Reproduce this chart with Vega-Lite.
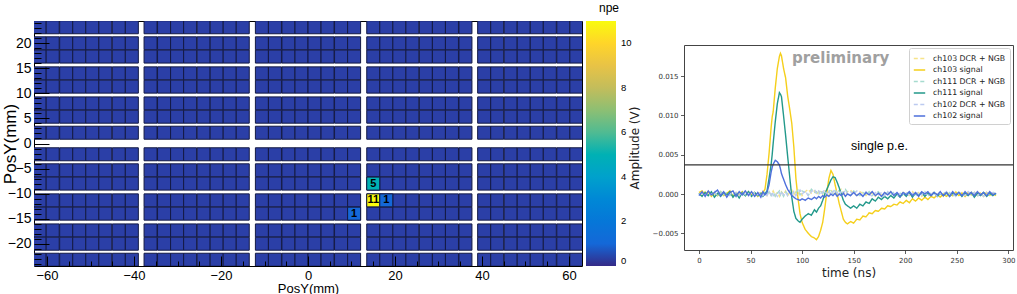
{
"$schema": "https://vega.github.io/schema/vega-lite/v6.json",
"background": "white",
"padding": {"left": 0, "top": 2, "right": 0, "bottom": 0},
"spacing": -6,
"resolve": {"scale": {"color": "independent", "strokeDash": "independent", "fill": "independent"}, "legend": {"color": "independent", "strokeDash": "independent", "fill": "independent"}},
"datasets": {
"cells": [
{"x":-61.7,"y":23.2},{"x":-58.7,"y":23.2},{"x":-55.6,"y":23.2},{"x":-52.6,"y":23.2},{"x":-49.6,"y":23.2},{"x":-46.6,"y":23.2},{"x":-43.5,"y":23.2},{"x":-40.5,"y":23.2},{"x":-36.2,"y":23.2},{"x":-33.1,"y":23.2},{"x":-30.1,"y":23.2},{"x":-27.1,"y":23.2},{"x":-24,"y":23.2},{"x":-21,"y":23.2},{"x":-18,"y":23.2},{"x":-15,"y":23.2},{"x":-10.6,"y":23.2},{"x":-7.6,"y":23.2},{"x":-4.5,"y":23.2},{"x":-1.5,"y":23.2},{"x":1.5,"y":23.2},{"x":4.5,"y":23.2},{"x":7.6,"y":23.2},{"x":10.6,"y":23.2},{"x":15,"y":23.2},{"x":18,"y":23.2},{"x":21,"y":23.2},{"x":24,"y":23.2},{"x":27.1,"y":23.2},{"x":30.1,"y":23.2},{"x":33.1,"y":23.2},{"x":36.2,"y":23.2},{"x":40.5,"y":23.2},{"x":43.5,"y":23.2},{"x":46.6,"y":23.2},{"x":49.6,"y":23.2},{"x":52.6,"y":23.2},{"x":55.6,"y":23.2},{"x":58.7,"y":23.2},{"x":61.7,"y":23.2},
{"x":-61.7,"y":20},{"x":-58.7,"y":20},{"x":-55.6,"y":20},{"x":-52.6,"y":20},{"x":-49.6,"y":20},{"x":-46.6,"y":20},{"x":-43.5,"y":20},{"x":-40.5,"y":20},{"x":-36.2,"y":20},{"x":-33.1,"y":20},{"x":-30.1,"y":20},{"x":-27.1,"y":20},{"x":-24,"y":20},{"x":-21,"y":20},{"x":-18,"y":20},{"x":-15,"y":20},{"x":-10.6,"y":20},{"x":-7.6,"y":20},{"x":-4.5,"y":20},{"x":-1.5,"y":20},{"x":1.5,"y":20},{"x":4.5,"y":20},{"x":7.6,"y":20},{"x":10.6,"y":20},{"x":15,"y":20},{"x":18,"y":20},{"x":21,"y":20},{"x":24,"y":20},{"x":27.1,"y":20},{"x":30.1,"y":20},{"x":33.1,"y":20},{"x":36.2,"y":20},{"x":40.5,"y":20},{"x":43.5,"y":20},{"x":46.6,"y":20},{"x":49.6,"y":20},{"x":52.6,"y":20},{"x":55.6,"y":20},{"x":58.7,"y":20},{"x":61.7,"y":20},
{"x":-61.7,"y":17.35},{"x":-58.7,"y":17.35},{"x":-55.6,"y":17.35},{"x":-52.6,"y":17.35},{"x":-49.6,"y":17.35},{"x":-46.6,"y":17.35},{"x":-43.5,"y":17.35},{"x":-40.5,"y":17.35},{"x":-36.2,"y":17.35},{"x":-33.1,"y":17.35},{"x":-30.1,"y":17.35},{"x":-27.1,"y":17.35},{"x":-24,"y":17.35},{"x":-21,"y":17.35},{"x":-18,"y":17.35},{"x":-15,"y":17.35},{"x":-10.6,"y":17.35},{"x":-7.6,"y":17.35},{"x":-4.5,"y":17.35},{"x":-1.5,"y":17.35},{"x":1.5,"y":17.35},{"x":4.5,"y":17.35},{"x":7.6,"y":17.35},{"x":10.6,"y":17.35},{"x":15,"y":17.35},{"x":18,"y":17.35},{"x":21,"y":17.35},{"x":24,"y":17.35},{"x":27.1,"y":17.35},{"x":30.1,"y":17.35},{"x":33.1,"y":17.35},{"x":36.2,"y":17.35},{"x":40.5,"y":17.35},{"x":43.5,"y":17.35},{"x":46.6,"y":17.35},{"x":49.6,"y":17.35},{"x":52.6,"y":17.35},{"x":55.6,"y":17.35},{"x":58.7,"y":17.35},{"x":61.7,"y":17.35},
{"x":-61.7,"y":14},{"x":-58.7,"y":14},{"x":-55.6,"y":14},{"x":-52.6,"y":14},{"x":-49.6,"y":14},{"x":-46.6,"y":14},{"x":-43.5,"y":14},{"x":-40.5,"y":14},{"x":-36.2,"y":14},{"x":-33.1,"y":14},{"x":-30.1,"y":14},{"x":-27.1,"y":14},{"x":-24,"y":14},{"x":-21,"y":14},{"x":-18,"y":14},{"x":-15,"y":14},{"x":-10.6,"y":14},{"x":-7.6,"y":14},{"x":-4.5,"y":14},{"x":-1.5,"y":14},{"x":1.5,"y":14},{"x":4.5,"y":14},{"x":7.6,"y":14},{"x":10.6,"y":14},{"x":15,"y":14},{"x":18,"y":14},{"x":21,"y":14},{"x":24,"y":14},{"x":27.1,"y":14},{"x":30.1,"y":14},{"x":33.1,"y":14},{"x":36.2,"y":14},{"x":40.5,"y":14},{"x":43.5,"y":14},{"x":46.6,"y":14},{"x":49.6,"y":14},{"x":52.6,"y":14},{"x":55.6,"y":14},{"x":58.7,"y":14},{"x":61.7,"y":14},
{"x":-61.7,"y":11.35},{"x":-58.7,"y":11.35},{"x":-55.6,"y":11.35},{"x":-52.6,"y":11.35},{"x":-49.6,"y":11.35},{"x":-46.6,"y":11.35},{"x":-43.5,"y":11.35},{"x":-40.5,"y":11.35},{"x":-36.2,"y":11.35},{"x":-33.1,"y":11.35},{"x":-30.1,"y":11.35},{"x":-27.1,"y":11.35},{"x":-24,"y":11.35},{"x":-21,"y":11.35},{"x":-18,"y":11.35},{"x":-15,"y":11.35},{"x":-10.6,"y":11.35},{"x":-7.6,"y":11.35},{"x":-4.5,"y":11.35},{"x":-1.5,"y":11.35},{"x":1.5,"y":11.35},{"x":4.5,"y":11.35},{"x":7.6,"y":11.35},{"x":10.6,"y":11.35},{"x":15,"y":11.35},{"x":18,"y":11.35},{"x":21,"y":11.35},{"x":24,"y":11.35},{"x":27.1,"y":11.35},{"x":30.1,"y":11.35},{"x":33.1,"y":11.35},{"x":36.2,"y":11.35},{"x":40.5,"y":11.35},{"x":43.5,"y":11.35},{"x":46.6,"y":11.35},{"x":49.6,"y":11.35},{"x":52.6,"y":11.35},{"x":55.6,"y":11.35},{"x":58.7,"y":11.35},{"x":61.7,"y":11.35},
{"x":-61.7,"y":8},{"x":-58.7,"y":8},{"x":-55.6,"y":8},{"x":-52.6,"y":8},{"x":-49.6,"y":8},{"x":-46.6,"y":8},{"x":-43.5,"y":8},{"x":-40.5,"y":8},{"x":-36.2,"y":8},{"x":-33.1,"y":8},{"x":-30.1,"y":8},{"x":-27.1,"y":8},{"x":-24,"y":8},{"x":-21,"y":8},{"x":-18,"y":8},{"x":-15,"y":8},{"x":-10.6,"y":8},{"x":-7.6,"y":8},{"x":-4.5,"y":8},{"x":-1.5,"y":8},{"x":1.5,"y":8},{"x":4.5,"y":8},{"x":7.6,"y":8},{"x":10.6,"y":8},{"x":15,"y":8},{"x":18,"y":8},{"x":21,"y":8},{"x":24,"y":8},{"x":27.1,"y":8},{"x":30.1,"y":8},{"x":33.1,"y":8},{"x":36.2,"y":8},{"x":40.5,"y":8},{"x":43.5,"y":8},{"x":46.6,"y":8},{"x":49.6,"y":8},{"x":52.6,"y":8},{"x":55.6,"y":8},{"x":58.7,"y":8},{"x":61.7,"y":8},
{"x":-61.7,"y":5.35},{"x":-58.7,"y":5.35},{"x":-55.6,"y":5.35},{"x":-52.6,"y":5.35},{"x":-49.6,"y":5.35},{"x":-46.6,"y":5.35},{"x":-43.5,"y":5.35},{"x":-40.5,"y":5.35},{"x":-36.2,"y":5.35},{"x":-33.1,"y":5.35},{"x":-30.1,"y":5.35},{"x":-27.1,"y":5.35},{"x":-24,"y":5.35},{"x":-21,"y":5.35},{"x":-18,"y":5.35},{"x":-15,"y":5.35},{"x":-10.6,"y":5.35},{"x":-7.6,"y":5.35},{"x":-4.5,"y":5.35},{"x":-1.5,"y":5.35},{"x":1.5,"y":5.35},{"x":4.5,"y":5.35},{"x":7.6,"y":5.35},{"x":10.6,"y":5.35},{"x":15,"y":5.35},{"x":18,"y":5.35},{"x":21,"y":5.35},{"x":24,"y":5.35},{"x":27.1,"y":5.35},{"x":30.1,"y":5.35},{"x":33.1,"y":5.35},{"x":36.2,"y":5.35},{"x":40.5,"y":5.35},{"x":43.5,"y":5.35},{"x":46.6,"y":5.35},{"x":49.6,"y":5.35},{"x":52.6,"y":5.35},{"x":55.6,"y":5.35},{"x":58.7,"y":5.35},{"x":61.7,"y":5.35},
{"x":-61.7,"y":2.15},{"x":-58.7,"y":2.15},{"x":-55.6,"y":2.15},{"x":-52.6,"y":2.15},{"x":-49.6,"y":2.15},{"x":-46.6,"y":2.15},{"x":-43.5,"y":2.15},{"x":-40.5,"y":2.15},{"x":-36.2,"y":2.15},{"x":-33.1,"y":2.15},{"x":-30.1,"y":2.15},{"x":-27.1,"y":2.15},{"x":-24,"y":2.15},{"x":-21,"y":2.15},{"x":-18,"y":2.15},{"x":-15,"y":2.15},{"x":-10.6,"y":2.15},{"x":-7.6,"y":2.15},{"x":-4.5,"y":2.15},{"x":-1.5,"y":2.15},{"x":1.5,"y":2.15},{"x":4.5,"y":2.15},{"x":7.6,"y":2.15},{"x":10.6,"y":2.15},{"x":15,"y":2.15},{"x":18,"y":2.15},{"x":21,"y":2.15},{"x":24,"y":2.15},{"x":27.1,"y":2.15},{"x":30.1,"y":2.15},{"x":33.1,"y":2.15},{"x":36.2,"y":2.15},{"x":40.5,"y":2.15},{"x":43.5,"y":2.15},{"x":46.6,"y":2.15},{"x":49.6,"y":2.15},{"x":52.6,"y":2.15},{"x":55.6,"y":2.15},{"x":58.7,"y":2.15},{"x":61.7,"y":2.15},
{"x":-61.7,"y":-2.15},{"x":-58.7,"y":-2.15},{"x":-55.6,"y":-2.15},{"x":-52.6,"y":-2.15},{"x":-49.6,"y":-2.15},{"x":-46.6,"y":-2.15},{"x":-43.5,"y":-2.15},{"x":-40.5,"y":-2.15},{"x":-36.2,"y":-2.15},{"x":-33.1,"y":-2.15},{"x":-30.1,"y":-2.15},{"x":-27.1,"y":-2.15},{"x":-24,"y":-2.15},{"x":-21,"y":-2.15},{"x":-18,"y":-2.15},{"x":-15,"y":-2.15},{"x":-10.6,"y":-2.15},{"x":-7.6,"y":-2.15},{"x":-4.5,"y":-2.15},{"x":-1.5,"y":-2.15},{"x":1.5,"y":-2.15},{"x":4.5,"y":-2.15},{"x":7.6,"y":-2.15},{"x":10.6,"y":-2.15},{"x":15,"y":-2.15},{"x":18,"y":-2.15},{"x":21,"y":-2.15},{"x":24,"y":-2.15},{"x":27.1,"y":-2.15},{"x":30.1,"y":-2.15},{"x":33.1,"y":-2.15},{"x":36.2,"y":-2.15},{"x":40.5,"y":-2.15},{"x":43.5,"y":-2.15},{"x":46.6,"y":-2.15},{"x":49.6,"y":-2.15},{"x":52.6,"y":-2.15},{"x":55.6,"y":-2.15},{"x":58.7,"y":-2.15},{"x":61.7,"y":-2.15},
{"x":-61.7,"y":-5.35},{"x":-58.7,"y":-5.35},{"x":-55.6,"y":-5.35},{"x":-52.6,"y":-5.35},{"x":-49.6,"y":-5.35},{"x":-46.6,"y":-5.35},{"x":-43.5,"y":-5.35},{"x":-40.5,"y":-5.35},{"x":-36.2,"y":-5.35},{"x":-33.1,"y":-5.35},{"x":-30.1,"y":-5.35},{"x":-27.1,"y":-5.35},{"x":-24,"y":-5.35},{"x":-21,"y":-5.35},{"x":-18,"y":-5.35},{"x":-15,"y":-5.35},{"x":-10.6,"y":-5.35},{"x":-7.6,"y":-5.35},{"x":-4.5,"y":-5.35},{"x":-1.5,"y":-5.35},{"x":1.5,"y":-5.35},{"x":4.5,"y":-5.35},{"x":7.6,"y":-5.35},{"x":10.6,"y":-5.35},{"x":15,"y":-5.35},{"x":18,"y":-5.35},{"x":21,"y":-5.35},{"x":24,"y":-5.35},{"x":27.1,"y":-5.35},{"x":30.1,"y":-5.35},{"x":33.1,"y":-5.35},{"x":36.2,"y":-5.35},{"x":40.5,"y":-5.35},{"x":43.5,"y":-5.35},{"x":46.6,"y":-5.35},{"x":49.6,"y":-5.35},{"x":52.6,"y":-5.35},{"x":55.6,"y":-5.35},{"x":58.7,"y":-5.35},{"x":61.7,"y":-5.35},
{"x":-61.7,"y":-8},{"x":-58.7,"y":-8},{"x":-55.6,"y":-8},{"x":-52.6,"y":-8},{"x":-49.6,"y":-8},{"x":-46.6,"y":-8},{"x":-43.5,"y":-8},{"x":-40.5,"y":-8},{"x":-36.2,"y":-8},{"x":-33.1,"y":-8},{"x":-30.1,"y":-8},{"x":-27.1,"y":-8},{"x":-24,"y":-8},{"x":-21,"y":-8},{"x":-18,"y":-8},{"x":-15,"y":-8},{"x":-10.6,"y":-8},{"x":-7.6,"y":-8},{"x":-4.5,"y":-8},{"x":-1.5,"y":-8},{"x":1.5,"y":-8},{"x":4.5,"y":-8},{"x":7.6,"y":-8},{"x":10.6,"y":-8},{"x":15,"y":-8,"n":5},{"x":18,"y":-8},{"x":21,"y":-8},{"x":24,"y":-8},{"x":27.1,"y":-8},{"x":30.1,"y":-8},{"x":33.1,"y":-8},{"x":36.2,"y":-8},{"x":40.5,"y":-8},{"x":43.5,"y":-8},{"x":46.6,"y":-8},{"x":49.6,"y":-8},{"x":52.6,"y":-8},{"x":55.6,"y":-8},{"x":58.7,"y":-8},{"x":61.7,"y":-8},
{"x":-61.7,"y":-11.35},{"x":-58.7,"y":-11.35},{"x":-55.6,"y":-11.35},{"x":-52.6,"y":-11.35},{"x":-49.6,"y":-11.35},{"x":-46.6,"y":-11.35},{"x":-43.5,"y":-11.35},{"x":-40.5,"y":-11.35},{"x":-36.2,"y":-11.35},{"x":-33.1,"y":-11.35},{"x":-30.1,"y":-11.35},{"x":-27.1,"y":-11.35},{"x":-24,"y":-11.35},{"x":-21,"y":-11.35},{"x":-18,"y":-11.35},{"x":-15,"y":-11.35},{"x":-10.6,"y":-11.35},{"x":-7.6,"y":-11.35},{"x":-4.5,"y":-11.35},{"x":-1.5,"y":-11.35},{"x":1.5,"y":-11.35},{"x":4.5,"y":-11.35},{"x":7.6,"y":-11.35},{"x":10.6,"y":-11.35},{"x":15,"y":-11.35,"n":11},{"x":18,"y":-11.35,"n":1},{"x":21,"y":-11.35},{"x":24,"y":-11.35},{"x":27.1,"y":-11.35},{"x":30.1,"y":-11.35},{"x":33.1,"y":-11.35},{"x":36.2,"y":-11.35},{"x":40.5,"y":-11.35},{"x":43.5,"y":-11.35},{"x":46.6,"y":-11.35},{"x":49.6,"y":-11.35},{"x":52.6,"y":-11.35},{"x":55.6,"y":-11.35},{"x":58.7,"y":-11.35},{"x":61.7,"y":-11.35},
{"x":-61.7,"y":-14},{"x":-58.7,"y":-14},{"x":-55.6,"y":-14},{"x":-52.6,"y":-14},{"x":-49.6,"y":-14},{"x":-46.6,"y":-14},{"x":-43.5,"y":-14},{"x":-40.5,"y":-14},{"x":-36.2,"y":-14},{"x":-33.1,"y":-14},{"x":-30.1,"y":-14},{"x":-27.1,"y":-14},{"x":-24,"y":-14},{"x":-21,"y":-14},{"x":-18,"y":-14},{"x":-15,"y":-14},{"x":-10.6,"y":-14},{"x":-7.6,"y":-14},{"x":-4.5,"y":-14},{"x":-1.5,"y":-14},{"x":1.5,"y":-14},{"x":4.5,"y":-14},{"x":7.6,"y":-14},{"x":10.6,"y":-14,"n":1},{"x":15,"y":-14},{"x":18,"y":-14},{"x":21,"y":-14},{"x":24,"y":-14},{"x":27.1,"y":-14},{"x":30.1,"y":-14},{"x":33.1,"y":-14},{"x":36.2,"y":-14},{"x":40.5,"y":-14},{"x":43.5,"y":-14},{"x":46.6,"y":-14},{"x":49.6,"y":-14},{"x":52.6,"y":-14},{"x":55.6,"y":-14},{"x":58.7,"y":-14},{"x":61.7,"y":-14},
{"x":-61.7,"y":-17.35},{"x":-58.7,"y":-17.35},{"x":-55.6,"y":-17.35},{"x":-52.6,"y":-17.35},{"x":-49.6,"y":-17.35},{"x":-46.6,"y":-17.35},{"x":-43.5,"y":-17.35},{"x":-40.5,"y":-17.35},{"x":-36.2,"y":-17.35},{"x":-33.1,"y":-17.35},{"x":-30.1,"y":-17.35},{"x":-27.1,"y":-17.35},{"x":-24,"y":-17.35},{"x":-21,"y":-17.35},{"x":-18,"y":-17.35},{"x":-15,"y":-17.35},{"x":-10.6,"y":-17.35},{"x":-7.6,"y":-17.35},{"x":-4.5,"y":-17.35},{"x":-1.5,"y":-17.35},{"x":1.5,"y":-17.35},{"x":4.5,"y":-17.35},{"x":7.6,"y":-17.35},{"x":10.6,"y":-17.35},{"x":15,"y":-17.35},{"x":18,"y":-17.35},{"x":21,"y":-17.35},{"x":24,"y":-17.35},{"x":27.1,"y":-17.35},{"x":30.1,"y":-17.35},{"x":33.1,"y":-17.35},{"x":36.2,"y":-17.35},{"x":40.5,"y":-17.35},{"x":43.5,"y":-17.35},{"x":46.6,"y":-17.35},{"x":49.6,"y":-17.35},{"x":52.6,"y":-17.35},{"x":55.6,"y":-17.35},{"x":58.7,"y":-17.35},{"x":61.7,"y":-17.35},
{"x":-61.7,"y":-20},{"x":-58.7,"y":-20},{"x":-55.6,"y":-20},{"x":-52.6,"y":-20},{"x":-49.6,"y":-20},{"x":-46.6,"y":-20},{"x":-43.5,"y":-20},{"x":-40.5,"y":-20},{"x":-36.2,"y":-20},{"x":-33.1,"y":-20},{"x":-30.1,"y":-20},{"x":-27.1,"y":-20},{"x":-24,"y":-20},{"x":-21,"y":-20},{"x":-18,"y":-20},{"x":-15,"y":-20},{"x":-10.6,"y":-20},{"x":-7.6,"y":-20},{"x":-4.5,"y":-20},{"x":-1.5,"y":-20},{"x":1.5,"y":-20},{"x":4.5,"y":-20},{"x":7.6,"y":-20},{"x":10.6,"y":-20},{"x":15,"y":-20},{"x":18,"y":-20},{"x":21,"y":-20},{"x":24,"y":-20},{"x":27.1,"y":-20},{"x":30.1,"y":-20},{"x":33.1,"y":-20},{"x":36.2,"y":-20},{"x":40.5,"y":-20},{"x":43.5,"y":-20},{"x":46.6,"y":-20},{"x":49.6,"y":-20},{"x":52.6,"y":-20},{"x":55.6,"y":-20},{"x":58.7,"y":-20},{"x":61.7,"y":-20},
{"x":-61.7,"y":-23.2},{"x":-58.7,"y":-23.2},{"x":-55.6,"y":-23.2},{"x":-52.6,"y":-23.2},{"x":-49.6,"y":-23.2},{"x":-46.6,"y":-23.2},{"x":-43.5,"y":-23.2},{"x":-40.5,"y":-23.2},{"x":-36.2,"y":-23.2},{"x":-33.1,"y":-23.2},{"x":-30.1,"y":-23.2},{"x":-27.1,"y":-23.2},{"x":-24,"y":-23.2},{"x":-21,"y":-23.2},{"x":-18,"y":-23.2},{"x":-15,"y":-23.2},{"x":-10.6,"y":-23.2},{"x":-7.6,"y":-23.2},{"x":-4.5,"y":-23.2},{"x":-1.5,"y":-23.2},{"x":1.5,"y":-23.2},{"x":4.5,"y":-23.2},{"x":7.6,"y":-23.2},{"x":10.6,"y":-23.2},{"x":15,"y":-23.2},{"x":18,"y":-23.2},{"x":21,"y":-23.2},{"x":24,"y":-23.2},{"x":27.1,"y":-23.2},{"x":30.1,"y":-23.2},{"x":33.1,"y":-23.2},{"x":36.2,"y":-23.2},{"x":40.5,"y":-23.2},{"x":43.5,"y":-23.2},{"x":46.6,"y":-23.2},{"x":49.6,"y":-23.2},{"x":52.6,"y":-23.2},{"x":55.6,"y":-23.2},{"x":58.7,"y":-23.2},{"x":61.7,"y":-23.2}
],
"names": [
{"k":"a","name":"ch103 DCR + NGB"},{"k":"b","name":"ch103 signal"},{"k":"c","name":"ch111 DCR + NGB"},{"k":"d","name":"ch111 signal"},{"k":"e","name":"ch102 DCR + NGB"},{"k":"f","name":"ch102 signal"}
],
"wave": [
{"t":0,"a":0.0001,"b":0.0002,"c":-0.0001,"d":0.0001,"e":0,"f":-0.0002},
{"t":3,"a":-0.0002,"b":0.0004,"c":0.0002,"d":-0.0003,"e":0.0002,"f":0.0003},
{"t":6,"a":0.0003,"b":-0.0001,"c":0,"d":0.0002,"e":-0.0002,"f":-0.0003},
{"t":9,"a":-0.0001,"b":0.0003,"c":-0.0003,"d":-0.0002,"e":0.0001,"f":0.0004},
{"t":12,"a":0.0002,"b":-0.0003,"c":0.0002,"d":0.0003,"e":-0.0001,"f":-0.0001},
{"t":15,"a":0,"b":0.0002,"c":0.0001,"d":-0.0004,"e":0.0003,"f":0.0002},
{"t":18,"a":-0.0003,"b":-0.0002,"c":-0.0002,"d":0.0001,"e":-0.0002,"f":0.0005},
{"t":21,"a":0.0002,"b":0.0003,"c":0.0003,"d":-0.0003,"e":0,"f":-0.0002},
{"t":24,"a":0.0001,"b":-0.0002,"c":-0.0001,"d":0.0002,"e":0.0002,"f":0.0003},
{"t":27,"a":-0.0002,"b":0.0001,"c":0.0002,"d":-0.0001,"e":-0.0003,"f":-0.0004},
{"t":30,"a":0.0003,"b":0.0004,"c":-0.0002,"d":0.0003,"e":0.0001,"f":0.0002},
{"t":33,"a":-0.0001,"b":-0.0003,"c":0.0001,"d":-0.0004,"e":-0.0001,"f":0.0004},
{"t":36,"a":0.0002,"b":0.0002,"c":-0.0003,"d":0.0001,"e":0.0002,"f":-0.0003},
{"t":39,"a":-0.0003,"b":-0.0001,"c":0.0002,"d":-0.0005,"e":-0.0002,"f":0.0003},
{"t":42,"a":0.0001,"b":0.0003,"c":0,"d":0.0002,"e":0.0003,"f":-0.0001},
{"t":45,"a":0.0002,"b":-0.0002,"c":-0.0002,"d":-0.0002,"e":-0.0001,"f":0.0004},
{"t":48,"a":-0.0001,"b":0.0003,"c":0.0003,"d":0.0003,"e":0.0001,"f":-0.0002},
{"t":51,"a":0.0003,"b":-0.0001,"c":-0.0001,"d":-0.0003,"e":-0.0003,"f":0.0003},
{"t":54,"a":-0.0002,"b":0.0002,"c":0.0002,"d":0.0002,"e":0.0002,"f":-0.0003},
{"t":57,"a":0.0001,"b":-0.0003,"c":-0.0002,"d":-0.0002,"e":-0.0001,"f":0.0002},
{"t":60,"a":0.0002,"b":0.0001,"c":0.0001,"d":0.0001,"e":0.0002,"f":-0.0004},
{"t":62,"a":-0.0001,"b":0.0002,"c":0,"d":-0.0003,"e":-0.0002,"f":0.0003},
{"t":64,"a":0.0003,"b":0.0006,"c":0.0002,"d":0,"e":0.0001,"f":-0.0001},
{"t":66,"a":-0.0002,"b":0.0025,"c":-0.0001,"d":0.0004,"e":-0.0002,"f":0.0002},
{"t":68,"a":0.0002,"b":0.0052,"c":0.0003,"d":0.002,"e":0.0003,"f":0.0012},
{"t":70,"a":-0.0001,"b":0.0085,"c":-0.0002,"d":0.0038,"e":-0.0001,"f":0.0028},
{"t":71,"a":0.0001,"b":0.0098,"c":0.0001,"d":0.005,"e":0.0002,"f":0.0034},
{"t":72,"a":0.0004,"b":0.0105,"c":0.0002,"d":0.0065,"e":-0.0002,"f":0.0038},
{"t":74,"a":-0.0002,"b":0.0135,"c":-0.0003,"d":0.0092,"e":0.0001,"f":0.0043},
{"t":76,"a":0.0002,"b":0.016,"c":0.0001,"d":0.0115,"e":-0.0003,"f":0.0041},
{"t":78,"a":-0.0003,"b":0.0175,"c":0.0004,"d":0.0129,"e":0.0002,"f":0.0037},
{"t":79,"a":0.0001,"b":0.0179,"c":-0.0001,"d":0.0127,"e":0,"f":0.0032},
{"t":80,"a":0.0003,"b":0.0176,"c":0.0002,"d":0.0124,"e":0.0003,"f":0.0026},
{"t":82,"a":-0.0001,"b":0.016,"c":-0.0003,"d":0.01,"e":-0.0001,"f":0.0019},
{"t":84,"a":0.0004,"b":0.0148,"c":0.0003,"d":0.0075,"e":0.0002,"f":0.0012},
{"t":86,"a":-0.0002,"b":0.0125,"c":0,"d":0.0048,"e":-0.0002,"f":0.0006},
{"t":88,"a":0.0002,"b":0.0108,"c":0.0004,"d":0.0022,"e":0.0004,"f":0.0002},
{"t":90,"a":0.0005,"b":0.009,"c":-0.0002,"d":-0.0004,"e":-0.0001,"f":-0.0002},
{"t":92,"a":-0.0001,"b":0.006,"c":0.0003,"d":-0.0022,"e":0.0003,"f":-0.0004},
{"t":94,"a":0.0003,"b":0.002,"c":0.0001,"d":-0.0031,"e":-0.0002,"f":-0.0006},
{"t":96,"a":0,"b":-0.0005,"c":0.0005,"d":-0.0034,"e":0.0002,"f":-0.0007},
{"t":98,"a":0.0004,"b":-0.0025,"c":-0.0001,"d":-0.0036,"e":0.0005,"f":-0.0008},
{"t":100,"a":-0.0002,"b":-0.0036,"c":0.0004,"d":-0.0032,"e":0,"f":-0.0006},
{"t":103,"a":0.0003,"b":-0.0045,"c":0.0002,"d":-0.0028,"e":0.0004,"f":-0.0008},
{"t":106,"a":0.0006,"b":-0.005,"c":-0.0002,"d":-0.0025,"e":-0.0002,"f":-0.0005},
{"t":109,"a":0.0001,"b":-0.0054,"c":0.0006,"d":-0.0027,"e":0.0003,"f":-0.0007},
{"t":112,"a":0.0004,"b":-0.0056,"c":0.0002,"d":-0.002,"e":0.0006,"f":-0.0004},
{"t":114,"a":-0.0001,"b":-0.0058,"c":0.0003,"d":-0.0023,"e":0.0001,"f":-0.0006},
{"t":116,"a":0.0003,"b":-0.0054,"c":-0.0001,"d":-0.0018,"e":0.0004,"f":-0.0003},
{"t":118,"a":0.0005,"b":-0.0046,"c":0.0005,"d":-0.0015,"e":-0.0001,"f":-0.0005},
{"t":120,"a":0,"b":-0.0036,"c":0.0001,"d":-0.0008,"e":0.0003,"f":-0.0002},
{"t":122,"a":0.0004,"b":-0.0018,"c":0.0004,"d":0,"e":0.0005,"f":-0.0004},
{"t":124,"a":0.0002,"b":0.0002,"c":-0.0002,"d":0.0006,"e":0,"f":-0.0001},
{"t":126,"a":-0.0002,"b":0.002,"c":0.0003,"d":0.0012,"e":0.0004,"f":-0.0003},
{"t":128,"a":0.0005,"b":0.003,"c":0.0006,"d":0.0018,"e":-0.0001,"f":0},
{"t":130,"a":0.0001,"b":0.0025,"c":0,"d":0.0022,"e":0.0003,"f":-0.0002},
{"t":132,"a":0.0003,"b":0.0012,"c":0.0004,"d":0.0021,"e":0.0006,"f":0.0001},
{"t":134,"a":-0.0001,"b":0,"c":0.0001,"d":0.0015,"e":0.0002,"f":-0.0003},
{"t":136,"a":0.0004,"b":-0.0012,"c":0.0005,"d":0.0008,"e":-0.0002,"f":0},
{"t":138,"a":0.0006,"b":-0.0022,"c":-0.0001,"d":0,"e":0.0004,"f":-0.0002},
{"t":140,"a":0.0002,"b":-0.0032,"c":0.0003,"d":-0.0008,"e":0.0001,"f":0.0001},
{"t":142,"a":-0.0002,"b":-0.0036,"c":0.0006,"d":-0.0013,"e":0.0005,"f":-0.0003},
{"t":144,"a":0.0003,"b":-0.0038,"c":0.0002,"d":-0.0015,"e":0,"f":0},
{"t":147,"a":0.0005,"b":-0.0035,"c":-0.0002,"d":-0.0018,"e":0.0003,"f":-0.0002},
{"t":150,"a":0.0001,"b":-0.0037,"c":0.0004,"d":-0.0015,"e":-0.0001,"f":0.0002},
{"t":153,"a":-0.0002,"b":-0.0032,"c":0.0001,"d":-0.0018,"e":0.0004,"f":-0.0002},
{"t":156,"a":0.0003,"b":-0.0033,"c":-0.0002,"d":-0.0013,"e":0.0001,"f":0.0001},
{"t":159,"a":0.0001,"b":-0.0028,"c":0.0002,"d":-0.0015,"e":-0.0002,"f":-0.0003},
{"t":162,"a":-0.0002,"b":-0.0029,"c":-0.0001,"d":-0.001,"e":0.0003,"f":0.0002},
{"t":165,"a":0.0003,"b":-0.0024,"c":0.0003,"d":-0.0012,"e":0,"f":-0.0001},
{"t":168,"a":0,"b":-0.0025,"c":-0.0002,"d":-0.0006,"e":-0.0003,"f":0.0003},
{"t":171,"a":-0.0003,"b":-0.0021,"c":0.0001,"d":-0.0009,"e":0.0002,"f":-0.0002},
{"t":174,"a":0.0002,"b":-0.0022,"c":0.0003,"d":-0.0004,"e":-0.0001,"f":0.0001},
{"t":177,"a":-0.0001,"b":-0.0018,"c":-0.0003,"d":-0.0007,"e":0.0002,"f":-0.0003},
{"t":180,"a":0.0002,"b":-0.0019,"c":0,"d":-0.0003,"e":-0.0002,"f":0.0002},
{"t":183,"a":-0.0002,"b":-0.0015,"c":0.0002,"d":-0.0006,"e":0.0003,"f":-0.0001},
{"t":186,"a":0.0003,"b":-0.0016,"c":-0.0002,"d":-0.0002,"e":-0.0001,"f":0.0003},
{"t":189,"a":-0.0001,"b":-0.0013,"c":0.0003,"d":-0.0005,"e":0.0001,"f":-0.0002},
{"t":192,"a":0.0001,"b":-0.0014,"c":-0.0001,"d":0,"e":-0.0003,"f":0.0002},
{"t":195,"a":-0.0003,"b":-0.001,"c":0.0002,"d":-0.0004,"e":0.0002,"f":-0.0003},
{"t":198,"a":0.0002,"b":-0.0012,"c":-0.0003,"d":0.0001,"e":0,"f":0.0002},
{"t":201,"a":0,"b":-0.0008,"c":0.0001,"d":-0.0003,"e":0.0003,"f":-0.0001},
{"t":204,"a":-0.0002,"b":-0.0011,"c":0.0003,"d":0.0002,"e":-0.0002,"f":0.0003},
{"t":207,"a":0.0003,"b":-0.0006,"c":-0.0002,"d":-0.0004,"e":0.0001,"f":-0.0002},
{"t":210,"a":-0.0001,"b":-0.0009,"c":0,"d":0.0001,"e":-0.0003,"f":0.0002},
{"t":213,"a":0.0002,"b":-0.0005,"c":0.0002,"d":-0.0002,"e":0.0002,"f":-0.0003},
{"t":216,"a":-0.0003,"b":-0.0008,"c":-0.0001,"d":0.0002,"e":-0.0001,"f":0.0003},
{"t":219,"a":0.0001,"b":-0.0004,"c":0.0003,"d":-0.0003,"e":0.0003,"f":0},
{"t":222,"a":0.0002,"b":-0.0007,"c":-0.0003,"d":0.0001,"e":-0.0002,"f":0.0003},
{"t":225,"a":-0.0002,"b":-0.0003,"c":0.0001,"d":-0.0002,"e":0,"f":-0.0002},
{"t":228,"a":0.0003,"b":-0.0005,"c":0.0002,"d":0.0002,"e":0.0002,"f":0.0002},
{"t":231,"a":-0.0001,"b":-0.0001,"c":-0.0002,"d":-0.0003,"e":-0.0003,"f":-0.0001},
{"t":234,"a":0.0001,"b":-0.0004,"c":0,"d":0.0001,"e":0.0001,"f":0.0003},
{"t":237,"a":-0.0003,"b":0,"c":0.0003,"d":-0.0002,"e":-0.0001,"f":-0.0002},
{"t":240,"a":0.0002,"b":-0.0003,"c":-0.0001,"d":0.0002,"e":0.0003,"f":0.0002},
{"t":243,"a":0,"b":0.0001,"c":0.0002,"d":-0.0003,"e":-0.0002,"f":-0.0003},
{"t":246,"a":-0.0002,"b":-0.0002,"c":-0.0003,"d":0.0001,"e":0.0001,"f":0.0003},
{"t":249,"a":0.0003,"b":0.0002,"c":0.0001,"d":-0.0002,"e":-0.0003,"f":-0.0001},
{"t":252,"a":-0.0001,"b":-0.0002,"c":0.0002,"d":0.0002,"e":0.0002,"f":0.0002},
{"t":255,"a":0.0002,"b":0.0001,"c":-0.0002,"d":-0.0003,"e":0,"f":-0.0002},
{"t":258,"a":-0.0003,"b":-0.0003,"c":0,"d":0.0001,"e":-0.0002,"f":0.0003},
{"t":261,"a":0.0001,"b":0.0002,"c":0.0003,"d":-0.0002,"e":0.0003,"f":-0.0001},
{"t":264,"a":0.0002,"b":-0.0001,"c":-0.0001,"d":0.0002,"e":-0.0001,"f":0.0002},
{"t":267,"a":-0.0002,"b":0.0002,"c":0.0002,"d":-0.0004,"e":0.0002,"f":-0.0002},
{"t":270,"a":0.0003,"b":-0.0002,"c":-0.0003,"d":0.0001,"e":-0.0002,"f":0.0003},
{"t":273,"a":0,"b":0.0001,"c":0.0001,"d":-0.0002,"e":0.0001,"f":-0.0001},
{"t":276,"a":-0.0001,"b":-0.0003,"c":0.0002,"d":0.0002,"e":-0.0003,"f":0.0002},
{"t":279,"a":0.0002,"b":0.0002,"c":-0.0002,"d":-0.0003,"e":0.0002,"f":-0.0002},
{"t":282,"a":-0.0002,"b":-0.0001,"c":0,"d":0.0001,"e":-0.0001,"f":0.0003},
{"t":285,"a":0.0001,"b":0.0001,"c":0.0003,"d":-0.0002,"e":0.0002,"f":-0.0001},
{"t":288,"a":0,"b":-0.0002,"c":-0.0001,"d":0.0001,"e":0,"f":0.0001}
]
},
"hconcat": [
{
"width": 548, "height": 245,
"view": {"stroke": "black", "strokeWidth": 1},
"data": {"name": "cells"},
"resolve": {"axis": {"x": "independent", "y": "independent"}},
"layer": [
{
"mark": {"type": "square", "size": 169, "filled": true, "opacity": 1, "fill": "#2b3fa7", "stroke": "#141a45", "strokeWidth": 1, "clip": true},
"encoding": {
"x": {"field": "x", "type": "quantitative", "scale": {"domain": [-63, 63], "nice": false, "zero": false},
 "axis": {"orient": "bottom", "values": [-60,-40,-20,0,20,40,60], "labelOverlap": false,
  "tickSize": -10, "tickColor": "black", "tickWidth": 1, "domain": false, "grid": false, "zindex": 1,
  "labelFontSize": 13, "labelFont": "Liberation Sans", "labelColor": "black", "labelPadding": 13,
  "title": "PosY(mm)", "titleFont": "Liberation Sans", "titleFontSize": 13, "titleFontWeight": "normal", "titleColor": "black",
  "titleBaseline": "alphabetic", "titleY": 26}},
"y": {"field": "y", "type": "quantitative", "scale": {"domain": [-24.45, 24.45], "nice": false, "zero": false},
 "axis": {"orient": "left", "values": [-20,-15,-10,-5,0,5,10,15,20], "labelOverlap": false,
  "tickSize": -15, "tickColor": "black", "tickWidth": 1, "domain": false, "grid": false, "zindex": 1,
  "labelFontSize": 14, "labelFont": "Liberation Sans", "labelColor": "black", "labelPadding": 18,
  "title": "PosY(mm)", "titleFont": "Liberation Sans", "titleFontSize": 17, "titleFontWeight": "normal", "titleColor": "black",
  "titleBaseline": "alphabetic", "titleX": -19}}
}
},
{
"transform": [{"filter": "datum.n > 0"}],
"mark": {"type": "square", "size": 169, "filled": true, "opacity": 1, "stroke": "#141a45", "strokeWidth": 1, "clip": true},
"encoding": {
"x": {"field": "x", "type": "quantitative", "axis": null},
"y": {"field": "y", "type": "quantitative", "axis": null},
"fill": {"field": "n", "type": "quantitative",
  "scale": {"domain": [0, 1, 2.75, 4.125, 5.5, 6.875, 8.25, 9.625, 11], "range": ["#352a87","#1468d8","#1481d6","#06a4ca","#2eb7a4","#87bf77","#d1bb59","#fec832","#f9fb0e"]},
  "legend": {"title": "npe", "orient": "none", "legendX": 552, "legendY": -18, "direction": "vertical",
   "gradientLength": 245, "gradientThickness": 30, "values": [0,2,4,6,8,10],
   "labelFontSize": 9.5, "labelFont": "Liberation Sans", "labelColor": "black", "labelOffset": 5,
   "titleFontSize": 12, "titleFont": "Liberation Sans", "titleFontWeight": "normal", "titleColor": "black",
   "titlePadding": 6, "titleAnchor": "middle", "gradientStrokeWidth": 0, "padding": 0}}
}
},
{
"transform": [{"filter": "datum.n > 0"}],
"mark": {"type": "text", "fontSize": 11, "fontWeight": "bold", "font": "Liberation Sans", "color": "black"},
"encoding": {
"x": {"field": "x", "type": "quantitative",
 "axis": {"orient": "bottom", "values": [-55,-50,-45,-35,-30,-25,-15,-10,-5,5,10,15,25,30,35,45,50,55], "labels": false, "title": null,
  "tickSize": -5, "tickColor": "black", "tickWidth": 1, "domain": false, "grid": false, "zindex": 1}},
"y": {"field": "y", "type": "quantitative",
 "axis": {"orient": "left", "values": [-24,-23,-22,-21,-19,-18,-17,-16,-14,-13,-12,-11,-9,-8,-7,-6,-4,-3,-2,-1,1,2,3,4,6,7,8,9,11,12,13,14,16,17,18,19,21,22,23,24], "labels": false, "title": null,
  "tickSize": -7, "tickColor": "black", "tickWidth": 1, "domain": false, "grid": false, "zindex": 1}},
"text": {"field": "n", "type": "quantitative"}
}
}
]
},
{
"spacing": 0,
"resolve": {"scale": {"color": "independent", "strokeDash": "independent"}, "legend": {"color": "independent", "strokeDash": "independent"}},
"vconcat": [
{"width": 329, "height": 23, "view": {"stroke": null}, "data": {"values": [{}]}, "mark": {"type": "text", "text": ""}, "encoding": {}},
{
"width": 329, "height": 205,
"view": {"stroke": "#444", "strokeWidth": 1},
"layer": [
{
"data": {"name": "wave"},
"transform": [{"fold": ["a","b","c","d","e","f"], "as": ["k","v"]},
 {"lookup": "k", "from": {"data": {"name": "names"}, "key": "k", "fields": ["name"]}}],
"mark": {"type": "line", "strokeWidth": 1.4, "clip": true},
"encoding": {
"x": {"field": "t", "type": "quantitative", "scale": {"domain": [-14.5, 304.5], "nice": false, "zero": false},
 "axis": {"values": [0,50,100,150,200,250,300], "labelFontSize": 7, "labelFont": "DejaVu Sans", "labelColor": "#333",
  "tickSize": 3.5, "tickColor": "#333", "tickWidth": 0.8, "labelPadding": 2.5, "domain": false, "grid": false,
  "title": "time (ns)", "titleFont": "DejaVu Sans", "titleFontSize": 12, "titleFontWeight": "normal", "titleColor": "#222", "titlePadding": 4}},
"y": {"field": "v", "type": "quantitative", "scale": {"domain": [-0.00712, 0.01896], "nice": false, "zero": false},
 "axis": {"values": [-0.005,0,0.005,0.01,0.015], "format": ".3f", "labelFontSize": 7, "labelFont": "DejaVu Sans", "labelColor": "#333",
  "tickSize": 3.5, "tickColor": "#333", "tickWidth": 0.8, "labelPadding": 2.5, "domain": false, "grid": false,
  "title": "Amplitude (V)", "titleFont": "DejaVu Sans", "titleFontSize": 12, "titleFontWeight": "normal", "titleColor": "#222", "titlePadding": 11}},
"color": {"field": "name", "type": "nominal",
 "scale": {"domain": ["ch103 DCR + NGB","ch103 signal","ch111 DCR + NGB","ch111 signal","ch102 DCR + NGB","ch102 signal"],
  "range": ["#f7e48a","#f5cf1b","#a6dbcf","#23998b","#bccaf0","#4e70dc"]},
 "legend": {"title": null, "orient": "top-right", "offset": 3, "labelFontSize": 7.8, "labelFont": "DejaVu Sans", "labelColor": "#222",
  "symbolType": "stroke", "symbolSize": 130, "symbolStrokeWidth": 1.5, "strokeColor": "#d0d0d0", "fillColor": "white",
  "padding": 4, "cornerRadius": 2, "rowPadding": 0.5, "labelOffset": 7}},
"strokeDash": {"field": "name", "type": "nominal",
 "scale": {"domain": ["ch103 DCR + NGB","ch103 signal","ch111 DCR + NGB","ch111 signal","ch102 DCR + NGB","ch102 signal"],
  "range": [[4,2.5],[1,0],[4,2.5],[1,0],[4,2.5],[1,0]]},
 "legend": {"title": null, "orient": "top-right", "offset": 3, "labelFontSize": 7.8, "labelFont": "DejaVu Sans", "labelColor": "#222",
  "symbolType": "stroke", "symbolSize": 130, "symbolStrokeWidth": 1.5, "strokeColor": "#d0d0d0", "fillColor": "white",
  "padding": 4, "cornerRadius": 2, "rowPadding": 0.5, "labelOffset": 7}}
}
},
{
"data": {"values": [{"a": 0.0037}]},
"mark": {"type": "rule", "color": "#333", "strokeWidth": 1.3},
"encoding": {"y": {"field": "a", "type": "quantitative"}}
},
{
"data": {"values": [{"t": 175, "a": 0.0056, "txt": "single p.e."}]},
"mark": {"type": "text", "fontSize": 12.5, "font": "Liberation Sans", "color": "black", "baseline": "alphabetic"},
"encoding": {"x": {"field": "t", "type": "quantitative"}, "y": {"field": "a", "type": "quantitative"}, "text": {"field": "txt"}}
},
{
"data": {"values": [{"t": 137.4, "a": 0.0167, "txt": "preliminary"}]},
"mark": {"type": "text", "fontSize": 15, "fontWeight": "bold", "font": "DejaVu Sans", "color": "#a0a0a0", "baseline": "alphabetic"},
"encoding": {"x": {"field": "t", "type": "quantitative"}, "y": {"field": "a", "type": "quantitative"}, "text": {"field": "txt"}}
}
]
}
]
}
]
}
